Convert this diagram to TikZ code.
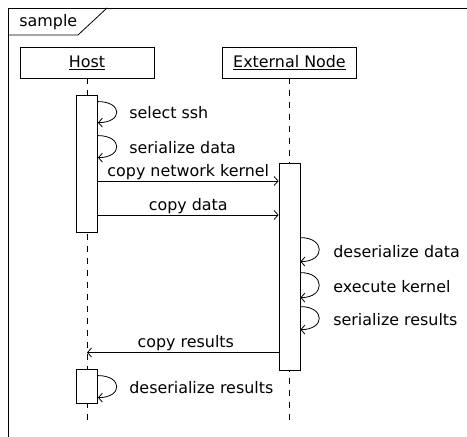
\documentclass[tikz,border=0pt]{standalone}
\usepackage{fontspec}
\setmainfont{DejaVu Sans}
\usetikzlibrary{arrows.meta,positioning}
\tikzset{lbl/.style={font=\fontsize{15.9}{18}\selectfont}}
\tikzset{obj/.style={draw,lbl,minimum width=134pt,minimum height=31pt,inner sep=0pt}}
\tikzset{act/.style={draw,fill=white,minimum width=21pt,inner sep=0pt}}
\tikzset{life/.style={dash pattern=on 6pt off 6pt}}
\tikzset{msg/.style={-{Straight Barb[length=4pt,width=9pt]}}}
\tikzset{txt/.style={lbl,anchor=west,inner sep=0pt}}

\begin{document}
\begin{tikzpicture}[x=1pt,y=-1pt,line width=0.8pt]
  \useasboundingbox (0,0) rectangle (467,437);
  % frame
  \draw (8,437) -- (8,8) -- (467,8);
  \draw (8,35) -- (78,35) -- (107,8);
  \node[txt] (frm) at (19,22) {sample};
  % objects and lifelines
  \node[obj] (host) at (87,62.5) {\underline{Host}};
  \node[obj] (ext) at (289.5,62.5) {\underline{External Node}};
  \coordinate (hend) at (87,421);
  \coordinate (eend) at (289.5,422);
  \draw[life] (host.south) -- (hend);
  \draw[life] (ext.south) -- (eend);
  % activations
  \node[act,minimum height=137pt] (ha) at (87,163.5) {};
  \node[act,minimum height=207pt] (ea) at (289.5,266.5) {};
  \node[act,minimum height=34pt] (hb) at (87,386) {};
  % host self calls
  \draw[msg] ([yshift=-7pt]ha.north east) .. controls +(25,0) and +(25,0) .. ([yshift=-28pt]ha.north east);
  \node[txt] (t1) at (129,113) {select ssh};
  \draw[msg] ([yshift=-41pt]ha.north east) .. controls +(25,0) and +(25,0) .. ([yshift=-63pt]ha.north east);
  \node[txt] (t2) at (129,148) {serialize data};
  % messages
  \coordinate (m1) at (ha.east|-0,181);
  \draw[msg] (m1) -- (ea.west|-m1) node[lbl,midway,above,inner sep=1pt] (l1) {copy network kernel};
  \coordinate (m2) at (ha.east|-0,215);
  \draw[msg] (m2) -- (ea.west|-m2) node[lbl,midway,above,inner sep=1pt] (l2) {copy data};
  % external self calls
  \draw[msg] ([yshift=-75pt]ea.north east) .. controls +(25,0) and +(25,0) .. ([yshift=-99pt]ea.north east);
  \node[txt] (t3) at (333,252) {deserialize data};
  \draw[msg] ([yshift=-110pt]ea.north east) .. controls +(25,0) and +(25,0) .. ([yshift=-135pt]ea.north east);
  \node[txt] (t4) at (333,287) {execute kernel};
  \draw[msg] ([yshift=-144pt]ea.north east) .. controls +(25,0) and +(25,0) .. ([yshift=-167pt]ea.north east);
  \node[txt] (t5) at (333,320) {serialize results};
  % reply
  \coordinate (m3) at (ea.west|-0,352.5);
  \draw[msg] (m3) -- (host.center|-m3) node[lbl,midway,above,inner sep=1pt,xshift=3pt] (l3) {copy results};
  \draw[msg] ([yshift=-7pt]hb.north east) .. controls +(25,0) and +(25,0) .. ([yshift=-29pt]hb.north east);
  \node[txt] (t6) at (129,388) {deserialize results};
\end{tikzpicture}
\end{document}
